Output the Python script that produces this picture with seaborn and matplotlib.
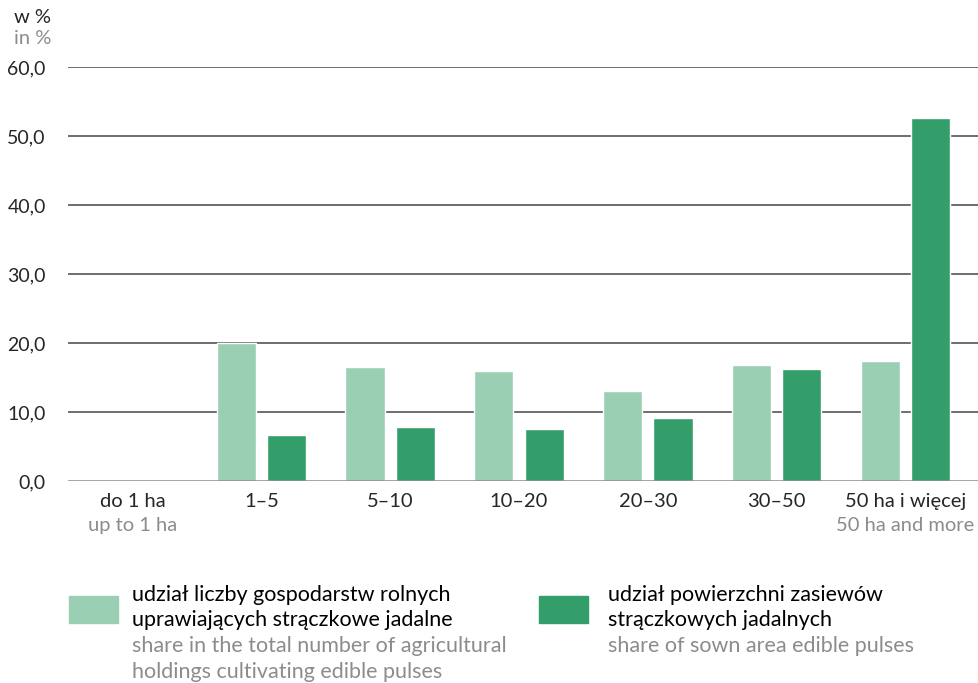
import numpy as np
import pandas as pd
import matplotlib.pyplot as plt
import seaborn as sns
from matplotlib.patches import Rectangle

# Dane
kategorie = ['do 1 ha', '1–5', '5–10', '10–20', '20–30', '30–50', '50 ha i więcej']
kategorie_en = ['up to 1 ha', '', '', '', '', '', '50 ha and more']
udzial_gospodarstw = [0.0, 20.0, 16.5, 15.9, 13.1, 16.8, 17.4]
udzial_powierzchni = [0.0, 6.7, 7.8, 7.5, 9.1, 16.2, 52.6]
serie = ['gospodarstwa', 'powierzchnia']

legenda_pl = [['udział liczby gospodarstw rolnych', 'uprawiających strączkowe jadalne'],
              ['udział powierzchni zasiewów', 'strączkowych jadalnych']]
legenda_en = [['share in the total number of agricultural', 'holdings cultivating edible pulses'],
              ['share of sown area edible pulses']]

jasny = '#9acfb3'
ciemny = '#339e69'
szary = '#8c8c8c'

df = pd.DataFrame({
    'kategoria': kategorie * 2,
    'seria': [serie[0]] * len(kategorie) + [serie[1]] * len(kategorie),
    'wartosc': udzial_gospodarstw + udzial_powierzchni,
})

sns.set_style('white')
plt.rcParams['font.family'] = ['Lato', 'DejaVu Sans']

fig = plt.figure(figsize=(9.79, 6.83), dpi=100)
ax = fig.add_axes([0.0695, 0.2958, 0.9305, 0.6061])

sns.barplot(data=df, x='kategoria', y='wartosc', hue='seria', hue_order=serie,
            order=kategorie, palette=[jasny, ciemny], saturation=1,
            width=0.78, gap=0.22, legend=False, ax=ax, zorder=3)

ax.set_ylim(0, 60)
ax.set_xlim(-0.5, 6.57)
ax.set_yticks(np.arange(0, 61, 10))
ax.set_yticklabels([f'{v:.1f}'.replace('.', ',') for v in np.arange(0, 61, 10)])
for y in np.arange(10, 61, 10):
    ax.axhline(y, color='#555555', lw=1.2, zorder=1)
ax.axhline(0, color='#8a8a8a', lw=1.8, zorder=4)
for s in ax.spines.values():
    s.set_visible(False)
ax.tick_params(axis='y', length=0, pad=16, labelsize=14)
ax.tick_params(axis='x', length=0, pad=9, labelsize=14.5)
ax.set_xlabel('')
ax.set_ylabel('')

# drugi wiersz podpisów (angielski)
for i, t in enumerate(kategorie_en):
    if t:
        ax.annotate(t, xy=(i, 0), xycoords=('data', 'axes fraction'),
                    xytext=(0, -26), textcoords='offset points',
                    ha='center', va='top', fontsize=14.5, color=szary)

fig.text(0.033, 0.975, 'w %', ha='center', va='center', fontsize=14.5)
fig.text(0.033, 0.943, 'in %', ha='center', va='center', fontsize=14.5, color=szary)

# legenda
pozycje = [(69, 132), (539, 608)]
for (xp, xt), kol, pl, en in zip(pozycje, [jasny, ciemny], legenda_pl, legenda_en):
    fig.patches.append(Rectangle((xp / 979, 1 - 623 / 683), 49 / 979, 27 / 683,
                                 transform=fig.transFigure, color=kol))
    linie = [(t, 'black') for t in pl] + [(t, szary) for t in en]
    for k, (t, c) in enumerate(linie):
        fig.text(xt / 979, 1 - (595 + 25.5 * k) / 683, t, ha='left', va='center',
                 fontsize=15.5, color=c)

fig.savefig('out.png', dpi=100)
